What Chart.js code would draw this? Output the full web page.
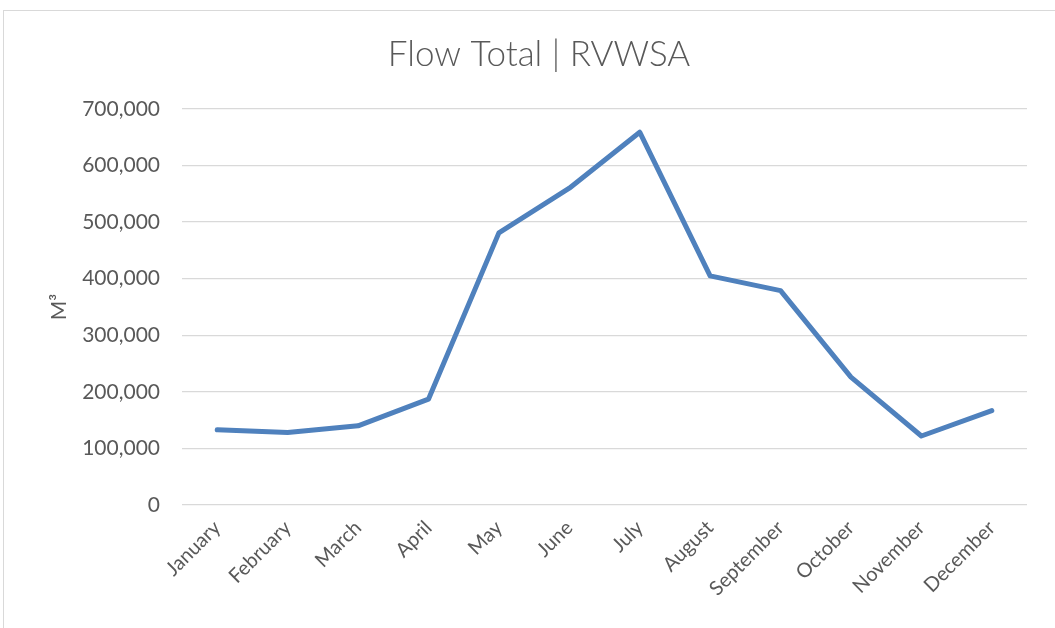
<!DOCTYPE html>
<html>
<head>
<meta charset="utf-8">
<script src="https://cdn.jsdelivr.net/npm/chart.js@4"></script>
<style>
  html, body { margin: 0; padding: 0; background: #fff; overflow: hidden; }
  .frame { position: absolute; left: 3px; top: 10px; width: 1100px; height: 700px; border: 1px solid #d9d9d9; }
  .chart-container { position: absolute; left: 0; top: 0; width: 1055px; height: 628px; }
</style>
</head>
<body>
<div class="frame"></div>
<div class="chart-container"><canvas id="chart"></canvas></div>
<script>
  const months = ["January", "February", "March", "April", "May", "June",
                  "July", "August", "September", "October", "November", "December"];
  const flowTotal = [133000, 128000, 140000, 187000, 481000, 560000,
                     659000, 405000, 379000, 226000, 122000, 167000];
  const yTicks = [0, 100000, 200000, 300000, 400000, 500000, 600000, 700000];

  const textColor = "#595959";
  const fontFamily = "Lato, 'Open Sans', sans-serif";

  const ctx = document.getElementById("chart").getContext("2d");
  new Chart(ctx, {
    type: "line",
    data: {
      labels: months,
      datasets: [
        {
          label: "Flow Total",
          data: flowTotal,
          borderColor: "#4f81bd",
          backgroundColor: "#4f81bd",
          borderWidth: 5,
          pointRadius: 0,
          tension: 0,
          borderJoinStyle: "round",
          borderCapStyle: "round",
        },
      ],
    },
    options: {
      responsive: true,
      maintainAspectRatio: false,
      animation: false,
      // left padding only to centre the title over the framed area
      layout: { padding: { left: 51, right: 28, top: 0, bottom: 0 } },
      plugins: {
        legend: { display: false },
        tooltip: { enabled: false },
        title: {
          display: true,
          text: "Flow Total | RVWSA",
          color: textColor,
          font: { family: fontFamily, size: 35, weight: 300 },
          padding: { top: 34, bottom: 33 },
        },
      },
      scales: {
        x: {
          offset: true,
          grid: { display: false, drawTicks: false },
          border: { display: false },
          ticks: {
            color: textColor,
            font: { family: fontFamily, size: 20 },
            minRotation: 45,
            maxRotation: 45,
            padding: 11,
          },
          afterFit: (scale) => { scale.height = 123; },
        },
        y: {
          min: 0,
          max: 700000,
          afterBuildTicks: (scale) => {
            scale.ticks = yTicks.map((v) => ({ value: v }));
          },
          grid: { color: "#d9d9d9", lineWidth: 1.3, drawTicks: false },
          border: { display: false },
          ticks: {
            color: textColor,
            font: { family: fontFamily, size: 21 },
            padding: 22,
            callback: (value) => value.toLocaleString("en-US"),
          },
          title: {
            display: true,
            text: "M³",
            color: textColor,
            font: { family: fontFamily, size: 21 },
            padding: { top: -4, bottom: 0 },
          },
          afterFit: (scale) => { scale.width = 131; },
        },
      },
    },
  });
</script>
</body>
</html>
